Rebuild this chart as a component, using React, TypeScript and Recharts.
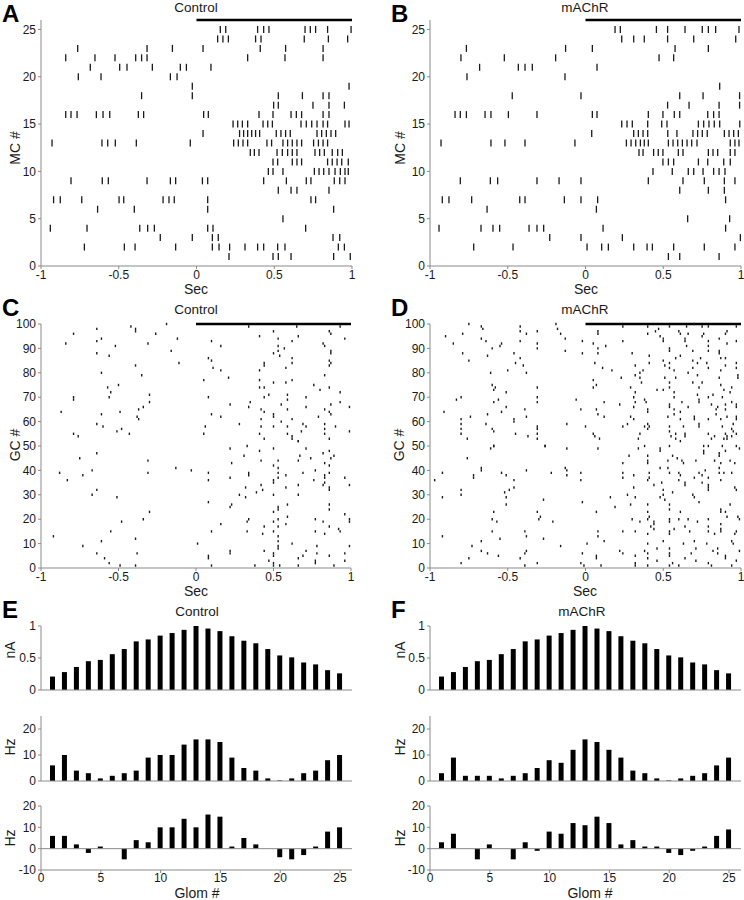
import { ScatterChart, Scatter, XAxis, YAxis, ReferenceLine, BarChart, Bar } from 'recharts';

// spike times (s) per mitral cell, index = MC # - 1
const MC_CONTROL: number[][] = [
  [0.209, 0.492, 0.526, 0.608, 0.882, 0.989],
  [-0.721, -0.464, -0.395, -0.134, 0.102, 0.145, 0.213, 0.312, 0.393, 0.432, 0.522, 0.569, 0.912, 0.951],
  [-0.233, -0.027, 0.102, 0.14, 0.878, 0.921],
  [-0.94, -0.704, -0.365, -0.314, -0.271, 0.072, 0.106, 0.702],
  [0.556],
  [-0.636, -0.4, 0.072, 0.882],
  [-0.919, -0.876, -0.738, -0.498, -0.468, -0.215, -0.177, -0.143, 0.072, 0.736, 0.766],
  [0.526, 0.608, 0.646, 0.852],
  [-0.807, -0.606, -0.567, -0.318, -0.168, -0.134, 0.038, 0.072, 0.432, 0.578, 0.706, 0.736, 0.886, 0.921, 0.955],
  [0.462, 0.492, 0.556, 0.758, 0.788, 0.818, 0.852, 0.891, 0.925, 0.955, 0.976],
  [0.492, 0.522, 0.616, 0.646, 0.676, 0.843, 0.873, 0.904, 0.934, 0.976],
  [0.346, 0.372, 0.402, 0.518, 0.552, 0.586, 0.616, 0.646, 0.762, 0.792, 0.822, 0.873, 0.908, 0.938],
  [-0.929, -0.608, -0.571, -0.522, -0.387, -0.04, 0.239, 0.269, 0.299, 0.329, 0.453, 0.483, 0.556, 0.586, 0.616, 0.646, 0.676, 0.753, 0.784, 0.814, 0.843],
  [0.042, 0.277, 0.303, 0.329, 0.355, 0.38, 0.406, 0.513, 0.543, 0.573, 0.603, 0.775, 0.805, 0.835, 0.865, 0.895],
  [0.235, 0.265, 0.295, 0.329, 0.428, 0.458, 0.488, 0.672, 0.706, 0.741, 0.775, 0.814, 0.843, 0.955, 0.981],
  [-0.841, -0.807, -0.768, -0.644, -0.601, -0.558, -0.374, -0.34, 0.046, 0.076, 0.402, 0.492, 0.608, 0.642, 0.676, 0.814, 0.852],
  [0.496, 0.526, 0.749, 0.852, 0.951],
  [-0.353, -0.027, 0.526, 0.681, 0.814, 0.852],
  [-0.027, 0.981],
  [-0.76, -0.614, -0.168, -0.125],
  [-0.683, -0.494, -0.447, -0.284, -0.104, -0.065, 0.093],
  [-0.841, -0.653, -0.524, -0.391, -0.353, -0.318, 0.329, 0.569, 0.814],
  [-0.764, -0.318, -0.155, 0.042, 0.41, 0.573, 0.814],
  [0.136, 0.17, 0.205, 0.38, 0.415, 0.693, 0.848, 0.972],
  [0.153, 0.188, 0.393, 0.432, 0.466, 0.698, 0.732, 0.766, 0.843, 0.994],
];

const MC_MACHR: number[][] = [
  [0.533, 0.606, 0.859],
  [-0.719, -0.466, 0.01, 0.104, 0.147, 0.31, 0.396, 0.43, 0.567, 0.764, 0.961],
  [-0.23, -0.029, 0.237, 0.996],
  [-0.942, -0.672, -0.595, -0.552, -0.363, -0.312, -0.269, 0.113, 0.901],
  [0.657, 0.927],
  [-0.633, 0.07],
  [-0.921, -0.878, -0.732, -0.423, -0.389, -0.136, -0.029, 0.078, 0.901],
  [0.606, 0.79, 0.893],
  [-0.805, -0.612, -0.565, -0.312, -0.17, -0.029, 0.404, 0.627, 0.764, 0.893, 0.961],
  [0.434, 0.558, 0.661, 0.696, 0.756, 0.824, 0.859, 0.897],
  [0.498, 0.533, 0.567, 0.726, 0.786, 0.889, 0.931],
  [0.344, 0.37, 0.438, 0.468, 0.498, 0.597, 0.627, 0.79, 0.82, 0.85, 0.931, 0.961],
  [-0.929, -0.608, -0.518, -0.389, -0.068, 0.263, 0.293, 0.323, 0.353, 0.378, 0.404, 0.533, 0.563, 0.593, 0.623, 0.653, 0.683, 0.717, 0.931, 0.961, 0.987],
  [0.04, 0.31, 0.34, 0.37, 0.4, 0.529, 0.588, 0.691, 0.721, 0.751, 0.783, 0.893, 0.923, 0.953, 0.983],
  [0.233, 0.267, 0.301, 0.4, 0.49, 0.524, 0.726, 0.76, 0.794, 0.828, 0.863, 0.992],
  [-0.839, -0.805, -0.766, -0.646, -0.608, -0.496, -0.312, 0.044, 0.074, 0.404, 0.498, 0.571, 0.606, 0.786, 0.824, 0.859],
  [0.528, 0.666, 0.859, 0.991],
  [-0.471, -0.029, 0.606, 0.756, 0.991],
  [0.863],
  [-0.762, -0.132],
  [-0.681, -0.432, -0.389, -0.342, 0.074],
  [-0.801, -0.522, -0.192, 0.473, 0.567],
  [-0.766, -0.128, 0.044, 0.576, 0.79],
  [0.233, 0.31, 0.378, 0.528, 0.696, 0.966],
  [0.19, 0.224, 0.456, 0.528, 0.64, 0.751, 0.79, 0.837, 0.987],
];

// granule cell spikes: [time (s), GC #]
const GC_CONTROL: [number, number][] = [
  [-0.79, 96], [-0.84, 92], [-0.64, 98], [-0.61, 94], [-0.64, 93], [-0.64, 88], [-0.56, 87], [-0.52, 91], [-0.42, 99], [-0.39, 98],
  [-0.39, 97], [-0.26, 96], [-0.19, 100], [-0.12, 94], [-0.31, 92], [-0.16, 89], [-0.11, 84], [-0.61, 80], [-0.39, 83], [-0.35, 79],
  [-0.5, 75], [-0.57, 74], [-0.55, 72], [-0.56, 70], [-0.79, 70], [-0.79, 69], [-0.87, 64], [-0.61, 63], [-0.64, 59], [-0.6, 58],
  [-0.49, 64], [-0.37, 65], [-0.38, 62], [-0.37, 61], [-0.34, 66], [-0.3, 71], [-0.3, 68], [-0.51, 56], [-0.48, 57], [-0.43, 55],
  [-0.79, 55], [-0.76, 54],
  [0.34, 99], [0.41, 95], [0.5, 97], [0.53, 94], [0.53, 91], [0.53, 89], [0.54, 87], [0.57, 90], [0.62, 93], [0.65, 99],
  [0.66, 95], [0.62, 86], [0.62, 84], [0.5, 88], [0.44, 84], [0.44, 83], [0.41, 81], [0.58, 82], [0.86, 97], [0.87, 96],
  [0.82, 92], [0.83, 91], [0.87, 89], [0.87, 88], [0.86, 85], [0.87, 84], [0.86, 83], [0.93, 99], [0.96, 94], [0.05, 77],
  [0.08, 86], [0.1, 85], [0.11, 82], [0.16, 81], [0.16, 91], [0.1, 93], [0.21, 78], [0.08, 70], [0.1, 63], [0.16, 62],
  [0.22, 67], [0.28, 59], [0.34, 66], [0.35, 68], [0.41, 77], [0.41, 74], [0.44, 74], [0.44, 70], [0.47, 71], [0.5, 76],
  [0.58, 76], [0.62, 77], [0.59, 71], [0.59, 69], [0.59, 65], [0.55, 67], [0.42, 65], [0.44, 64], [0.5, 63], [0.5, 62],
  [0.42, 61], [0.42, 58], [0.5, 58], [0.55, 60], [0.59, 58], [0.62, 61], [0.69, 59], [0.71, 70], [0.71, 66], [0.76, 75],
  [0.8, 73], [0.83, 79], [0.86, 74], [0.71, 58], [0.79, 62], [0.83, 65], [0.83, 59], [0.83, 57], [0.83, 55], [0.86, 64],
  [0.87, 63], [0.87, 67], [0.9, 58], [0.93, 72], [0.93, 68], [0.99, 66], [0.99, 56], [0.06, 58], [0.05, 55], [0.41, 55],
  [0.44, 53], [0.59, 55], [0.62, 54], [0.62, 53], [0.66, 52], [0.68, 56], [0.86, 53],
  [-0.75, 45], [-0.64, 47], [-0.88, 39], [-0.83, 36], [-0.73, 38], [-0.67, 40], [-0.67, 30], [-0.64, 32], [-0.51, 29], [-0.31, 44],
  [-0.31, 39], [-0.13, 41], [-0.03, 40], [-0.3, 23], [-0.34, 20], [-0.48, 19], [-0.55, 15], [-0.61, 11], [-0.92, 13], [-0.73, 9],
  [-0.39, 12], [-0.64, 6], [-0.59, 4], [-0.56, 2], [-0.49, 1], [-0.38, 6], [-0.39, 1], [0.01, 10],
  [0.08, 39], [0.08, 36], [0.08, 27], [0.1, 15], [0.08, 5], [0.08, 4], [0.1, 1], [0.16, 18], [0.22, 49], [0.23, 43],
  [0.22, 37], [0.22, 25], [0.22, 7], [0.22, 6], [0.23, 26], [0.28, 30], [0.31, 46], [0.33, 50], [0.32, 33], [0.32, 29],
  [0.34, 39], [0.34, 38], [0.34, 20], [0.33, 19], [0.33, 15], [0.38, 1], [0.39, 31], [0.41, 48], [0.42, 44], [0.42, 34],
  [0.43, 32], [0.44, 17], [0.43, 14], [0.44, 7], [0.47, 3], [0.5, 49], [0.5, 42], [0.5, 36], [0.5, 35], [0.5, 30],
  [0.5, 23], [0.5, 19], [0.5, 15], [0.5, 6], [0.5, 5], [0.5, 2], [0.5, 1], [0.53, 44], [0.53, 41], [0.53, 39],
  [0.53, 37], [0.53, 25], [0.53, 24], [0.53, 20], [0.53, 17], [0.53, 13], [0.53, 11], [0.53, 9], [0.53, 8], [0.54, 1],
  [0.58, 38], [0.58, 33], [0.59, 26], [0.59, 21], [0.58, 18], [0.62, 10], [0.66, 52], [0.66, 44], [0.67, 46], [0.69, 39],
  [0.66, 34], [0.66, 30], [0.66, 4], [0.69, 5], [0.66, 1], [0.71, 49], [0.71, 7], [0.74, 45], [0.77, 40], [0.76, 36],
  [0.77, 20], [0.77, 15], [0.78, 9], [0.78, 6], [0.77, 3], [0.77, 2], [0.82, 47], [0.83, 43], [0.83, 38], [0.83, 37],
  [0.83, 35], [0.82, 34], [0.82, 19], [0.83, 14], [0.86, 48], [0.87, 45], [0.86, 42], [0.86, 39], [0.86, 33], [0.86, 32],
  [0.86, 26], [0.86, 24], [0.86, 17], [0.86, 5], [0.89, 46], [0.89, 1], [0.93, 15], [0.92, 16], [0.96, 37], [0.96, 22],
  [0.99, 20], [0.99, 19], [0.99, 34], [0.99, 9], [0.96, 6], [0.96, 3],
];

const GC_MACHR: [number, number][] = [
  [-0.9, 95], [-0.85, 92], [-0.79, 96], [-0.75, 100], [-0.79, 88], [-0.75, 85], [-0.67, 99], [-0.66, 98], [-0.67, 94], [-0.64, 93],
  [-0.6, 90], [-0.63, 87], [-0.55, 91], [-0.54, 92], [-0.42, 99], [-0.42, 97], [-0.38, 96], [-0.31, 97], [-0.42, 93], [-0.31, 92],
  [-0.31, 90], [-0.19, 100], [-0.18, 98], [-0.16, 96], [-0.13, 94], [-0.13, 89], [-0.02, 93], [-0.02, 88], [-0.46, 88], [-0.45, 84],
  [-0.42, 86], [-0.4, 83], [-0.5, 81], [-0.38, 80], [-0.61, 80], [-0.6, 75], [-0.58, 74], [-0.59, 73], [-0.51, 72], [-0.56, 69],
  [-0.59, 68], [-0.8, 70], [-0.83, 69], [-0.91, 64], [-0.63, 63], [-0.74, 62], [-0.8, 61], [-0.8, 59], [-0.8, 57], [-0.8, 55],
  [-0.76, 53], [-0.64, 59], [-0.6, 57], [-0.59, 56], [-0.51, 66], [-0.54, 64], [-0.46, 61], [-0.46, 60], [-0.45, 55], [-0.39, 65],
  [-0.38, 62], [-0.37, 54], [-0.31, 74], [-0.31, 70], [-0.31, 68], [-0.31, 58], [-0.31, 57], [-0.31, 55], [-0.31, 53], [-0.26, 50],
  [-0.59, 50], [-0.06, 69], [-0.03, 65], [-0.12, 59], [0.0, 58],
  [0.05, 77], [0.05, 74], [0.07, 75], [0.08, 96], [0.08, 97], [0.05, 92], [0.08, 90], [0.08, 88], [0.06, 84], [0.11, 82],
  [0.13, 91], [0.17, 81], [0.24, 99], [0.24, 93], [0.3, 88], [0.23, 78], [0.32, 83], [0.32, 79], [0.35, 80], [0.37, 81],
  [0.35, 78], [0.36, 76], [0.29, 74], [0.32, 72], [0.31, 70], [0.32, 68], [0.22, 67], [0.12, 68], [0.08, 63], [0.12, 62],
  [0.07, 65], [0.05, 55], [0.06, 54], [0.09, 53], [0.24, 58], [0.27, 59], [0.29, 62], [0.31, 61], [0.31, 66], [0.38, 69],
  [0.39, 68], [0.4, 65], [0.4, 64], [0.4, 59], [0.41, 58], [0.4, 57], [0.35, 55], [0.34, 53], [0.38, 58], [0.4, 99],
  [0.4, 96], [0.41, 87], [0.41, 84], [0.45, 97], [0.47, 98], [0.48, 95], [0.5, 94], [0.5, 93], [0.54, 99], [0.54, 90],
  [0.54, 89], [0.5, 85], [0.51, 83], [0.54, 84], [0.54, 82], [0.51, 78], [0.54, 76], [0.54, 74], [0.5, 73], [0.46, 73],
  [0.57, 72], [0.57, 70], [0.54, 67], [0.54, 66], [0.57, 65], [0.57, 63], [0.53, 62], [0.54, 58], [0.55, 54], [0.58, 53],
  [0.54, 56], [0.58, 55], [0.6, 97], [0.61, 96], [0.61, 87], [0.58, 86], [0.57, 81], [0.58, 78], [0.62, 68], [0.66, 66],
  [0.61, 64], [0.61, 61], [0.63, 58], [0.64, 55], [0.64, 54], [0.65, 99], [0.66, 96], [0.64, 94], [0.64, 93], [0.65, 91],
  [0.69, 89], [0.7, 100], [0.69, 85], [0.69, 82], [0.66, 80], [0.72, 84], [0.74, 86], [0.72, 79], [0.76, 96], [0.75, 95],
  [0.75, 99], [0.79, 93], [0.79, 91], [0.79, 89], [0.78, 84], [0.79, 99], [0.79, 82], [0.73, 74], [0.75, 76], [0.69, 76],
  [0.72, 71], [0.73, 69], [0.73, 68], [0.7, 62], [0.7, 61], [0.73, 59], [0.73, 58], [0.79, 70], [0.81, 67], [0.79, 61],
  [0.79, 55], [0.81, 53], [0.83, 54], [0.82, 71], [0.85, 66], [0.84, 65], [0.84, 63], [0.86, 78], [0.87, 81], [0.87, 75],
  [0.86, 94], [0.86, 89], [0.86, 88], [0.87, 86], [0.91, 97], [0.9, 96], [0.91, 92], [0.9, 86], [0.9, 83], [0.89, 73],
  [0.88, 70], [0.9, 67], [0.9, 65], [0.91, 62], [0.87, 61], [0.88, 58], [0.9, 55], [0.91, 54], [0.89, 53], [0.93, 72],
  [0.94, 74], [0.94, 68], [0.97, 99], [0.97, 93], [0.97, 84], [0.97, 82], [0.98, 79], [0.98, 78], [0.97, 67], [0.97, 66],
  [0.97, 62], [0.97, 61], [0.95, 59], [0.94, 57], [0.95, 56], [0.97, 55], [0.94, 54], [0.91, 53], [0.97, 50],
  [-0.97, 36], [-0.92, 39], [-0.92, 29], [-0.92, 13], [-0.8, 32], [-0.8, 30], [-0.8, 2], [-0.76, 45], [-0.75, 4], [-0.73, 9],
  [-0.72, 38], [-0.72, 37], [-0.67, 7], [-0.67, 11], [-0.67, 41], [-0.67, 40], [-0.61, 49], [-0.59, 50], [-0.59, 23], [-0.6, 20],
  [-0.57, 19], [-0.6, 15], [-0.63, 6], [-0.56, 5], [-0.55, 12], [-0.54, 39], [-0.51, 38], [-0.52, 31], [-0.51, 29], [-0.51, 26],
  [-0.49, 32], [-0.46, 36], [-0.46, 33], [-0.42, 4], [-0.39, 1], [-0.38, 40], [-0.39, 15], [-0.38, 13], [-0.38, 7], [-0.39, 6],
  [-0.31, 23], [-0.3, 20], [-0.29, 21], [-0.31, 2], [-0.26, 50], [-0.27, 28], [-0.27, 12], [-0.22, 39], [-0.21, 19], [-0.16, 9],
  [-0.13, 41], [-0.12, 40], [-0.12, 38], [-0.12, 49], [-0.03, 39], [-0.03, 36], [-0.02, 27], [-0.02, 6], [-0.03, 2], [-0.01, 1],
  [0.01, 10],
  [0.08, 49], [0.07, 23], [0.08, 15], [0.08, 13], [0.07, 5], [0.07, 4], [0.1, 1], [0.12, 11], [0.16, 29], [0.19, 25],
  [0.24, 43], [0.24, 39], [0.24, 37], [0.24, 15], [0.22, 7], [0.24, 6], [0.28, 46], [0.27, 30], [0.29, 26], [0.3, 20],
  [0.31, 38], [0.31, 33], [0.32, 29], [0.32, 15], [0.32, 5], [0.32, 2], [0.32, 1], [0.34, 49], [0.35, 19], [0.38, 50],
  [0.38, 7], [0.4, 46], [0.4, 44], [0.4, 43], [0.41, 39], [0.41, 37], [0.4, 36], [0.4, 26], [0.4, 23], [0.4, 20],
  [0.41, 21], [0.42, 17], [0.4, 14], [0.4, 10], [0.4, 6], [0.4, 4], [0.4, 1], [0.44, 34], [0.44, 19], [0.44, 18],
  [0.44, 16], [0.46, 8], [0.46, 3], [0.48, 41], [0.48, 29], [0.48, 48], [0.48, 49], [0.49, 35], [0.5, 32], [0.5, 30],
  [0.51, 28], [0.5, 11], [0.54, 50], [0.53, 44], [0.53, 41], [0.54, 39], [0.54, 26], [0.54, 24], [0.54, 20], [0.54, 19],
  [0.54, 15], [0.54, 14], [0.54, 8], [0.54, 6], [0.54, 5], [0.54, 1], [0.56, 46], [0.56, 31], [0.56, 2], [0.57, 16],
  [0.59, 45], [0.6, 39], [0.61, 38], [0.6, 36], [0.61, 23], [0.6, 20], [0.6, 1], [0.61, 52], [0.62, 44], [0.63, 43],
  [0.64, 34], [0.64, 35], [0.64, 17], [0.63, 10], [0.64, 4], [0.66, 20], [0.67, 15], [0.68, 6], [0.7, 11], [0.69, 30],
  [0.7, 29], [0.71, 44], [0.7, 37], [0.71, 8], [0.71, 3], [0.72, 19], [0.73, 27], [0.73, 39], [0.75, 38], [0.75, 35],
  [0.76, 50], [0.76, 48], [0.76, 47], [0.77, 40], [0.78, 10], [0.79, 20], [0.79, 17], [0.79, 15], [0.79, 37], [0.79, 34],
  [0.79, 33], [0.79, 32], [0.79, 2], [0.79, 50], [0.81, 1], [0.83, 14], [0.82, 7], [0.83, 44], [0.85, 8], [0.85, 6],
  [0.86, 46], [0.86, 47], [0.87, 43], [0.86, 41], [0.86, 39], [0.87, 36], [0.87, 24], [0.87, 23], [0.87, 18], [0.87, 16],
  [0.87, 15], [0.88, 50], [0.9, 48], [0.89, 39], [0.9, 5], [0.9, 4], [0.9, 23], [0.91, 21], [0.93, 26], [0.93, 44],
  [0.94, 39], [0.94, 11], [0.94, 1], [0.95, 10], [0.96, 14], [0.96, 43], [0.96, 33], [0.97, 32], [0.97, 15], [0.98, 21],
  [0.99, 20], [0.99, 7], [0.99, 49], [0.97, 3],
];

const GLOM = [1, 2, 3, 4, 5, 6, 7, 8, 9, 10, 11, 12, 13, 14, 15, 16, 17, 18, 19, 20, 21, 22, 23, 24, 25];
const CURRENT = [0.21, 0.28, 0.36, 0.45, 0.47, 0.56, 0.64, 0.76, 0.79, 0.85, 0.89, 0.94, 1.0, 0.96, 0.92, 0.84, 0.77, 0.73, 0.64, 0.54, 0.51, 0.43, 0.4, 0.31, 0.26];
const RATE_CONTROL = [6, 10, 4, 3, 1, 2, 3, 4, 9, 10, 10, 14, 16, 16, 15, 9, 5, 4, 1, 0.2, 1, 3, 4, 8, 10];
const DIFF_CONTROL = [6, 6, 2, -2, 1, 0, -5, 4, 3, 10, 10, 14, 10, 16, 15, 1, 5, 2, 0, -4, -5, -3, 1, 8, 10];
const RATE_MACHR = [3, 9, 2, 2, 2, 1, 2, 3, 5, 8, 7, 12, 16, 15, 12, 9, 4, 3, 1, 0.2, 1, 2, 3, 6, 9];
const DIFF_MACHR = [3, 7, 0, -5, 2, 0, -5, 3, -1, 8, 7, 12, 11, 15, 12, 2, 4, 1, 1, -2, -3, -1, 1, 6, 9];

const TIME_TICKS = [-1, -0.5, 0, 0.5, 1];
const MC_TICKS = [0, 5, 10, 15, 20, 25];
const GC_TICKS = [0, 10, 20, 30, 40, 50, 60, 70, 80, 90, 100];
const GLOM_TICKS = [0, 5, 10, 15, 20, 25];
const NA_TICKS = [0, 0.5, 1];
const RATE_TICKS = [0, 10, 20];
const DIFF_TICKS = [-10, 0, 10, 20];
const STIM = [0, 1];

const FONT = '"Liberation Sans", Arial, Helvetica, sans-serif';
const AXIS = '#8a8a8a';
const INK = '#1a1a1a';
const PAD_L = 40;
const PAD_R = 10;
const PAD_T = 10;
const PAD_B = 30;
const tickFont = { fill: INK, fontSize: 12, fontFamily: FONT };

function spikeShape(h: number, w: number) {
  return (p: any) => (
    <line x1={p.cx} x2={p.cx} y1={p.cy - h / 2} y2={p.cy + h / 2} stroke={INK} strokeWidth={w} />
  );
}

function Raster({ x0, x1, y0, y1, points, yMax, yTicks, markH, markW }: any) {
  const width = x1 - x0 + PAD_L + PAD_R;
  const height = y1 - y0 + PAD_T + PAD_B;
  return (
    <div style={{ position: 'absolute', left: x0 - PAD_L, top: y0 - PAD_T }}>
      <ScatterChart width={width} height={height} margin={{ top: PAD_T, right: PAD_R, bottom: 0, left: 0 }}>
        <XAxis type="number" dataKey="t" domain={[-1, 1]} ticks={TIME_TICKS} interval={0} height={PAD_B}
          axisLine={{ stroke: AXIS }} tickLine={{ stroke: AXIS }} tickSize={3} tickMargin={1} tick={tickFont} />
        <YAxis type="number" dataKey="n" domain={[0, yMax]} ticks={yTicks} interval={0} width={PAD_L}
          axisLine={{ stroke: AXIS }} tickLine={{ stroke: AXIS }} tickSize={3} tickMargin={2} tick={tickFont} />
        <ReferenceLine segment={[{ x: STIM[0], y: yMax }, { x: STIM[1], y: yMax }]} stroke="#000" strokeWidth={2.5} ifOverflow="visible" />
        <Scatter data={points} isAnimationActive={false} shape={spikeShape(markH, markW)} />
      </ScatterChart>
    </div>
  );
}

function Bars({ x0, x1, y0, y1, values, domain, ticks, showX }: any) {
  const width = x1 - x0 + PAD_L + PAD_R;
  const height = y1 - y0 + PAD_T + PAD_B;
  const data = GLOM.map((g, i) => ({ g, v: values[i] }));
  return (
    <div style={{ position: 'absolute', left: x0 - PAD_L, top: y0 - PAD_T }}>
      <BarChart width={width} height={height} data={data} barSize={5} margin={{ top: PAD_T, right: PAD_R, bottom: 0, left: 0 }}>
        <XAxis type="number" dataKey="g" domain={[0, 26]} ticks={GLOM_TICKS} interval={0} height={PAD_B}
          axisLine={{ stroke: AXIS }} tickLine={showX ? { stroke: AXIS } : false} tickSize={3} tickMargin={0}
          tick={showX ? tickFont : false} />
        <YAxis type="number" domain={domain} ticks={ticks} interval={0} width={PAD_L}
          axisLine={{ stroke: AXIS }} tickLine={{ stroke: AXIS }} tickSize={3} tickMargin={2} tick={tickFont} />
        {domain[0] < 0 && <ReferenceLine y={0} stroke={AXIS} />}
        <Bar dataKey="v" fill="#000" isAnimationActive={false} />
      </BarChart>
    </div>
  );
}

const toPoints = (rows: number[][]) => rows.flatMap((times, i) => times.map((t) => ({ t, n: i + 1 })));
const toDots = (list: [number, number][]) => list.map(([t, n]) => ({ t, n }));

function Labels() {
  const letter = { fontSize: 24, fontWeight: 700, fontFamily: FONT, fill: '#000' } as const;
  const title = { fontSize: 13.5, fontFamily: FONT, fill: INK, textAnchor: 'middle' } as const;
  const axisT = { fontSize: 14, fontFamily: FONT, fill: INK, textAnchor: 'middle' } as const;
  const vlab = (x: number, y: number, s: string) => (
    <text key={s + x + y} x={x} y={y} transform={`rotate(-90 ${x} ${y})`} {...axisT}>{s}</text>
  );
  return (
    <svg width={744} height={900} style={{ position: 'absolute', left: 0, top: 0, pointerEvents: 'none' }}>
      <text x={2} y={22} {...letter}>A</text>
      <text x={391} y={22} {...letter}>B</text>
      <text x={2} y={316} {...letter}>C</text>
      <text x={391} y={316} {...letter}>D</text>
      <text x={2} y={618} {...letter}>E</text>
      <text x={391} y={618} {...letter}>F</text>

      <text x={196} y={12} {...title}>Control</text>
      <text x={585} y={12} {...title}>mAChR</text>
      <text x={196} y={314} {...title}>Control</text>
      <text x={585} y={314} {...title}>mAChR</text>
      <text x={197} y={616} {...title}>Control</text>
      <text x={582} y={616} {...title}>mAChR</text>

      {vlab(20, 148, 'MC #')}
      {vlab(405, 148, 'MC #')}
      {vlab(20, 445, 'GC #')}
      {vlab(404, 445, 'GC #')}
      {vlab(15, 650, 'nA')}
      {vlab(15, 747, 'Hz')}
      {vlab(15, 838, 'Hz')}
      {vlab(405, 650, 'nA')}
      {vlab(405, 747, 'Hz')}
      {vlab(405, 838, 'Hz')}

      <text x={196} y={294} {...axisT}>Sec</text>
      <text x={586} y={294} {...axisT}>Sec</text>
      <text x={196} y={596} {...axisT}>Sec</text>
      <text x={585} y={596} {...axisT}>Sec</text>
      <text x={197} y={898} {...axisT}>Glom #</text>
      <text x={590} y={898} {...axisT}>Glom #</text>
    </svg>
  );
}

export default function App() {
  return (
    <div style={{ position: 'absolute', left: 0, top: 0, width: 744, height: 900, background: '#fff', overflow: 'hidden' }}>
      <Raster x0={41} x1={352} y0={20} y1={266} points={toPoints(MC_CONTROL)} yMax={26} yTicks={MC_TICKS} markH={7} markW={1.3} />
      <Raster x0={430} x1={741} y0={20} y1={266} points={toPoints(MC_MACHR)} yMax={26} yTicks={MC_TICKS} markH={7} markW={1.3} />
      <Raster x0={41} x1={351} y0={324} y1={568} points={toDots(GC_CONTROL)} yMax={100} yTicks={GC_TICKS} markH={2.4} markW={1.4} />
      <Raster x0={430} x1={741} y0={324} y1={568} points={toDots(GC_MACHR)} yMax={100} yTicks={GC_TICKS} markH={2.4} markW={1.4} />

      <Bars x0={41} x1={352} y0={626} y1={690} values={CURRENT} domain={[0, 1]} ticks={NA_TICKS} showX={false} />
      <Bars x0={41} x1={352} y0={716} y1={781} values={RATE_CONTROL} domain={[0, 25]} ticks={RATE_TICKS} showX={false} />
      <Bars x0={41} x1={352} y0={806} y1={870} values={DIFF_CONTROL} domain={[-10, 20]} ticks={DIFF_TICKS} showX={true} />
      <Bars x0={430} x1={741} y0={626} y1={690} values={CURRENT} domain={[0, 1]} ticks={NA_TICKS} showX={false} />
      <Bars x0={430} x1={741} y0={716} y1={781} values={RATE_MACHR} domain={[0, 25]} ticks={RATE_TICKS} showX={false} />
      <Bars x0={430} x1={741} y0={806} y1={870} values={DIFF_MACHR} domain={[-10, 20]} ticks={DIFF_TICKS} showX={true} />

      <Labels />
    </div>
  );
}
